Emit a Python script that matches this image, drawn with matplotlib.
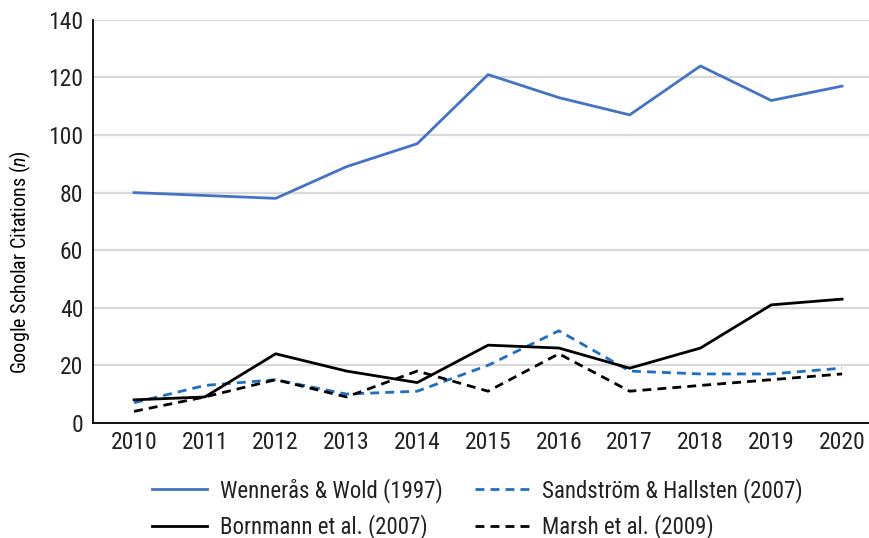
import matplotlib
matplotlib.use("Agg")
import matplotlib.pyplot as plt
from matplotlib import font_manager

years = ["2010", "2011", "2012", "2013", "2014", "2015", "2016", "2017", "2018", "2019", "2020"]
wenneras = [80, 79, 78, 89, 97, 121, 113, 107, 124, 112, 117]
sandstrom = [7, 13, 15, 10, 11, 20, 32, 18, 17, 17, 19]
bornmann = [8, 9, 24, 18, 14, 27, 26, 19, 26, 41, 43]
marsh = [4, 9, 15, 9, 18, 11, 24, 11, 13, 15, 17]

# condensed font like the original, if there is one
names = {f.name for f in font_manager.fontManager.ttflist}
family = "DejaVu Sans"
for cand in ["Roboto Condensed", "Archivo Narrow", "PT Sans Narrow", "Liberation Sans"]:
    if cand in names:
        family = cand
        break
plt.rcParams["font.family"] = [family, "DejaVu Sans"]
plt.rcParams["mathtext.fontset"] = "custom"
plt.rcParams["mathtext.it"] = family + ":italic"
plt.rcParams["text.color"] = "#222222"

fig = plt.figure(figsize=(8.69, 5.38), dpi=100)
ax = fig.add_axes([0.107, 0.214, 0.893, 0.749])

x = range(len(years))
dash = (0, (3.2, 2.2))
ax.plot(x, wenneras, color="#4472C4", lw=2.0, label="Wennerås & Wold (1997)")
ax.plot(x, sandstrom, color="#1F6FC0", lw=2.0, ls=dash, label="Sandström & Hallsten (2007)")
ax.plot(x, bornmann, color="black", lw=2.0, label="Bornmann et al. (2007)")
ax.plot(x, marsh, color="black", lw=2.0, ls=dash, label="Marsh et al. (2009)")

ax.set_xlim(-0.58, 10.38)
ax.set_ylim(0, 140)
ax.set_yticks(range(0, 141, 20))
ax.set_xticks(list(x))
ax.set_xticklabels(years)
ax.tick_params(axis="both", labelsize=17, length=0, labelcolor="#222222")
ax.tick_params(axis="y", pad=7)
ax.tick_params(axis="x", pad=6)
ax.yaxis.grid(True, color="#d9d9d9", lw=1.6)
ax.set_axisbelow(True)
for s in ["top", "right"]:
    ax.spines[s].set_visible(False)
for s in ["left", "bottom"]:
    ax.spines[s].set_linewidth(1.3)
    ax.spines[s].set_color("black")
ax.set_ylabel("Google Scholar Citations ($\\mathit{n}$)", fontsize=14.5, va="center")
ax.yaxis.set_label_coords(-0.094, 0.40)

handles, labels = ax.get_legend_handles_labels()
order = [0, 2, 1, 3]
fig.legend([handles[i] for i in order], [labels[i] for i in order],
           ncol=2, loc="center left", bbox_to_anchor=(0.175, 0.055),
           frameon=False, fontsize=16.5, handlelength=2.4, columnspacing=1.4,
           labelspacing=0.5, handletextpad=0.55, borderpad=0, borderaxespad=0)

fig.savefig("out.png", dpi=100)
